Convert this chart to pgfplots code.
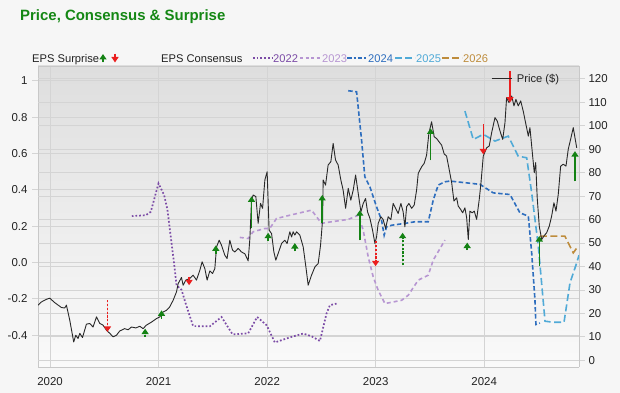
\documentclass[border=0pt]{standalone}
\usepackage{pgfplots}
\pgfplotsset{compat=1.18}
\usepackage{fontspec}
\setmainfont{Liberation Sans}
\usetikzlibrary{arrows.meta}
\definecolor{bgc}{RGB}{246,246,246}
\definecolor{gridc}{RGB}{212,212,212}
\definecolor{framec}{RGB}{200,200,200}
\definecolor{labc}{RGB}{34,34,34}
\definecolor{titlec}{RGB}{20,135,20}
\definecolor{c22}{RGB}{123,75,166}
\definecolor{c23}{RGB}{183,150,210}
\definecolor{c24}{RGB}{46,110,190}
\definecolor{c25}{RGB}{80,170,215}
\definecolor{c26}{RGB}{190,140,60}
\definecolor{upc}{RGB}{20,130,20}
\definecolor{dnc}{RGB}{235,30,30}
\definecolor{pricec}{RGB}{40,40,40}
\tikzset{
  s22/.style={c22, line width=1.7bp, dash pattern=on 1.7bp off 2bp},
  s23/.style={c23, line width=1.6bp, dash pattern=on 4bp off 3bp},
  s24/.style={c24, line width=1.6bp, dash pattern=on 4.5bp off 2.5bp},
  s25/.style={c25, line width=1.6bp, dash pattern=on 7bp off 3.5bp},
  s26/.style={c26, line width=1.6bp, dash pattern=on 7bp off 3.5bp},
  up/.style={draw=upc, fill=upc, line width=1.5bp, -{Triangle[width=7bp,length=5.5bp]}},
  dn/.style={draw=dnc, fill=dnc, line width=1.5bp, -{Triangle[width=7bp,length=5.5bp]}},
  dots/.style={line width=1.9bp, dash pattern=on 2.2bp off 1.6bp},
}
\pgfplotsset{base/.style={width=541bp, height=301bp, scale only axis,
  at={(38bp,26bp)}, anchor=south west, xmin=2019.889, xmax=2024.873,
  /pgf/number format/assume math mode=true,
  ticklabel style={font=\fontsize{11.5}{13}\selectfont, text=labc}}}
\begin{document}
\begin{tikzpicture}
\fill[bgc] (0bp,0bp) rectangle (620bp,393bp);
% left scale with grid and background
\begin{axis}[base, ymin=-0.575, ymax=1.081,
  axis background/.style={top color=white!87!black, bottom color=white!98!black},
  ytick={-0.4,-0.2,0,0.2,0.4,0.6,0.8,1},
  yticklabels={-0.4,-0.2,0.0,0.2,0.4,0.6,0.8,1},
  xtick={2020,2021,2022,2023,2024},
  xticklabels={2020,2021,2022,2023,2024},
  xmajorgrids, ymajorgrids,
  grid style={draw=gridc, line width=0.8bp},
  axis line style={draw=framec, line width=0.8bp},
  axis y line*=left, axis x line*=bottom,
  tick align=outside, major tick length=6bp,
  ytick style={draw=gridc, line width=0.8bp},
  xtick style={draw=none},
  xticklabel style={yshift=-1bp},
  yticklabel style={xshift=-1bp},
  ]
\end{axis}
% right scale with grid
\begin{axis}[base, ymin=-2.86, ymax=125.5,
  ytick={0,10,...,120},
  axis y line*=right, axis x line*=top,
  xtick=\empty,
  ymajorgrids,
  grid style={draw=gridc, line width=0.8bp},
  axis line style={draw=framec, line width=0.8bp},
  tick align=outside, major tick length=6bp,
  ytick style={draw=gridc, line width=0.8bp},
  ]
\end{axis}
% EPS consensus (left scale)
\begin{axis}[base, ymin=-0.575, ymax=1.081, hide axis]
\addplot[s22] coordinates {
(2020.753,0.255) (2020.882,0.260) (2020.928,0.279) (2020.999,0.435)
(2021.051,0.371) (2021.082,0.288) (2021.112,0.141) (2021.143,-0.006)
(2021.165,-0.125) (2021.211,-0.150) (2021.257,-0.240) (2021.318,-0.350)
(2021.472,-0.351) (2021.580,-0.300) (2021.681,-0.395) (2021.825,-0.390)
(2021.908,-0.300) (2021.995,-0.345) (2022.071,-0.440) (2022.209,-0.412)
(2022.332,-0.391) (2022.409,-0.406) (2022.486,-0.432) (2022.547,-0.281)
(2022.578,-0.235) (2022.640,-0.226)};
\addplot[s23] coordinates {
(2021.748,0.138) (2021.825,0.132) (2021.871,0.169) (2021.979,0.187)
(2022.024,0.187) (2022.086,0.242) (2022.209,0.260) (2022.409,0.288)
(2022.501,0.215) (2022.547,0.220) (2022.747,0.237) (2022.839,0.260)
(2022.885,0.178) (2022.931,0.031) (2022.977,-0.079) (2023.023,-0.153)
(2023.085,-0.226) (2023.239,-0.208) (2023.300,-0.180) (2023.392,-0.097)
(2023.484,-0.070) (2023.530,0.013) (2023.638,0.123)};
\addplot[s24] coordinates {
(2022.747,0.945) (2022.824,0.939) (2022.870,0.673) (2022.900,0.471)
(2022.947,0.416) (2023.008,0.306) (2023.054,0.233) (2023.078,0.150)
(2023.100,0.196) (2023.147,0.205) (2023.269,0.215) (2023.361,0.224)
(2023.484,0.224) (2023.530,0.343) (2023.576,0.426) (2023.638,0.444)
(2023.684,0.448) (2023.838,0.438) (2023.960,0.430) (2024.083,0.383)
(2024.237,0.374) (2024.329,0.273) (2024.406,0.255) (2024.437,0.053)
(2024.467,-0.204) (2024.476,-0.341) (2024.513,-0.333)};
\addplot[s25] coordinates {
(2023.822,0.833) (2023.899,0.677) (2023.991,0.705) (2024.099,0.668)
(2024.221,0.695) (2024.313,0.585) (2024.391,0.576) (2024.437,0.383)
(2024.498,0.090) (2024.560,-0.323) (2024.636,-0.329) (2024.735,-0.329)
(2024.790,-0.112) (2024.852,-0.002) (2024.873,0.040)};
\addplot[s26] coordinates {
(2024.513,0.145) (2024.743,0.145) (2024.820,0.053) (2024.866,0.090)};
\end{axis}
% Price and surprise arrows (right scale)
\begin{axis}[base, ymin=-2.86, ymax=125.5, hide axis]
\addplot[pricec, line width=0.9bp, line join=round] coordinates {
(2019.889,23.5) (2019.921,24.9) (2019.967,26.0) (2019.997,26.5) (2020.043,24.6)
(2020.105,22.5) (2020.135,22.3) (2020.151,23.5) (2020.182,17.0) (2020.218,7.8)
(2020.237,10.7) (2020.258,9.3) (2020.274,11.5) (2020.299,9.7) (2020.335,15.4)
(2020.366,15.7) (2020.396,14.2) (2020.428,18.5) (2020.458,15.7) (2020.488,15.0)
(2020.520,12.8) (2020.550,11.5) (2020.581,10.0) (2020.612,10.7) (2020.642,12.5)
(2020.688,13.5) (2020.719,13.0) (2020.750,14.2) (2020.790,13.8) (2020.827,14.5)
(2020.857,13.5) (2020.888,15.0) (2020.935,16.3) (2020.981,17.8) (2021.011,18.5)
(2021.041,20.6) (2021.073,21.3) (2021.103,22.8) (2021.134,25.6) (2021.165,29.2)
(2021.180,32.7) (2021.211,35.3) (2021.226,32.0) (2021.251,34.2) (2021.288,34.9)
(2021.318,36.3) (2021.349,34.2) (2021.380,38.4) (2021.401,42.0) (2021.426,39.1)
(2021.447,34.2) (2021.472,38.1) (2021.497,37.0) (2021.518,39.1) (2021.534,48.4)
(2021.558,51.2) (2021.580,49.0) (2021.610,44.8) (2021.631,43.4) (2021.656,51.2)
(2021.681,47.0) (2021.702,46.2) (2021.733,47.7) (2021.764,46.2) (2021.795,45.4)
(2021.825,42.4) (2021.841,51.9) (2021.856,68.3) (2021.871,70.5) (2021.896,69.8)
(2021.917,58.4) (2021.939,66.9) (2021.958,64.8) (2021.979,76.9) (2022.000,80.4)
(2022.018,55.5) (2022.041,54.0) (2022.062,46.2) (2022.080,42.7) (2022.101,45.5)
(2022.133,49.8) (2022.163,51.2) (2022.184,49.8) (2022.209,54.8) (2022.225,52.6)
(2022.240,54.8) (2022.255,53.4) (2022.271,54.8) (2022.301,53.4) (2022.332,48.4)
(2022.357,39.8) (2022.378,32.0) (2022.409,36.3) (2022.440,39.8) (2022.470,41.2)
(2022.492,49.1) (2022.511,60.0) (2022.516,76.9) (2022.538,74.7) (2022.562,83.3)
(2022.587,84.7) (2022.608,92.5) (2022.630,85.4) (2022.654,83.3) (2022.679,76.9)
(2022.700,72.6) (2022.723,64.8) (2022.747,73.3) (2022.771,68.3) (2022.793,72.6)
(2022.815,79.0) (2022.839,71.2) (2022.864,63.3) (2022.885,66.9) (2022.907,69.0)
(2022.925,63.3) (2022.947,60.5) (2022.971,55.5) (2022.993,49.8) (2023.008,52.6)
(2023.023,58.4) (2023.048,61.2) (2023.069,60.0) (2023.091,56.2) (2023.115,61.2)
(2023.140,60.0) (2023.161,66.9) (2023.183,64.8) (2023.207,62.6) (2023.232,66.9)
(2023.253,63.3) (2023.269,56.9) (2023.285,65.5) (2023.306,66.9) (2023.331,64.8)
(2023.355,66.2) (2023.377,72.6) (2023.392,79.7) (2023.423,82.5) (2023.447,84.0)
(2023.469,87.5) (2023.490,96.8) (2023.515,101.7) (2023.539,95.3) (2023.561,94.6)
(2023.583,93.2) (2023.607,91.8) (2023.631,88.0) (2023.653,87.1) (2023.677,81.4)
(2023.700,75.7) (2023.721,67.9) (2023.746,69.3) (2023.760,65.8) (2023.783,64.3)
(2023.801,62.9) (2023.822,65.0) (2023.838,60.8) (2023.853,51.5) (2023.868,63.6)
(2023.889,62.9) (2023.908,63.6) (2023.930,60.1) (2023.954,68.6) (2023.970,75.7)
(2023.991,87.1) (2024.022,90.6) (2024.046,91.4) (2024.068,97.0) (2024.099,103.5)
(2024.120,102.0) (2024.145,97.8) (2024.170,94.2) (2024.191,101.3) (2024.206,112.0)
(2024.228,109.9) (2024.253,112.7) (2024.274,108.5) (2024.292,111.3) (2024.313,108.5)
(2024.336,110.6) (2024.359,106.3) (2024.384,100.6) (2024.406,95.6) (2024.421,99.2)
(2024.446,87.1) (2024.461,80.0) (2024.474,84.3) (2024.488,69.3) (2024.507,57.2)
(2024.529,51.5) (2024.550,53.0) (2024.575,54.4) (2024.599,57.2) (2024.621,61.5)
(2024.642,67.2) (2024.661,63.6) (2024.682,70.8) (2024.704,82.8) (2024.728,83.6)
(2024.753,82.8) (2024.774,90.0) (2024.799,94.9) (2024.820,99.2) (2024.852,90.6)};
% surprise arrows
\addplot[dn, dots] coordinates {(2020.529,25.6) (2020.529,12.1)};
\addplot[up, dots] coordinates {(2020.876,10.0) (2020.876,13.5)};
\addplot[up] coordinates {(2021.027,17.8) (2021.027,21.3)};
\addplot[dn] coordinates {(2021.281,35.6) (2021.281,32.0)};
\addplot[up] coordinates {(2021.527,45.4) (2021.527,49.0)};
\addplot[up] coordinates {(2021.856,56.3) (2021.856,69.9)};
\addplot[up] coordinates {(2022.009,50.8) (2022.009,54.4)};
\addplot[up] coordinates {(2022.255,46.5) (2022.255,50.0)};
\addplot[up] coordinates {(2022.507,58.4) (2022.507,70.5)};
\addplot[up] coordinates {(2022.854,51.2) (2022.854,64.0)};
\addplot[dn, dots] coordinates {(2022.999,50.8) (2022.999,40.1)};
\addplot[up, dots] coordinates {(2023.248,40.6) (2023.248,54.4)};
\addplot[up] coordinates {(2023.506,85.4) (2023.506,98.9)};
\addplot[up, dots] coordinates {(2023.843,47.0) (2023.843,50.2)};
\addplot[dn] coordinates {(2023.991,100.6) (2023.991,87.8)};
\addplot[dn] coordinates {(2024.237,123.4) (2024.237,109.9)};
\addplot[up] coordinates {(2024.507,40.1) (2024.507,53.0)};
\addplot[up] coordinates {(2024.836,76.4) (2024.836,89.2)};
\end{axis}
% title
\node[anchor=base west, inner sep=0pt, font=\fontsize{15}{17}\selectfont\bfseries, text=titlec] at (20bp,372.5bp) {Price, Consensus \& Surprise};
% legend row
\begin{scope}[every node/.style={anchor=base west, inner sep=0pt, font=\fontsize{11.2}{13}\selectfont}]
\node[text=labc] at (32bp,330.5bp) {EPS Surprise};
\draw[up, line width=1.3bp] (103bp,330.5bp) -- (103bp,339bp);
\draw[dn, line width=1.3bp] (115bp,339bp) -- (115bp,330.5bp);
\node[text=labc] at (161bp,330.5bp) {EPS Consensus};
\draw[s22] (253bp,335bp) -- (272bp,335bp);
\node[text=c22] at (273bp,330.5bp) {2022};
\draw[s23, dash pattern=on 3bp off 2.5bp] (300bp,335bp) -- (320bp,335bp);
\node[text=c23] at (322bp,330.5bp) {2023};
\draw[s24, dash pattern=on 4.5bp off 2bp on 2bp off 2bp] (347bp,335bp) -- (367bp,335bp);
\node[text=c24] at (368bp,330.5bp) {2024};
\draw[s25, dash pattern=on 7bp off 3bp] (395bp,335bp) -- (415bp,335bp);
\node[text=c25] at (416bp,330.5bp) {2025};
\draw[s26, dash pattern=on 7bp off 3bp] (442bp,335bp) -- (462bp,335bp);
\node[text=c26] at (463bp,330.5bp) {2026};
\draw[pricec, line width=0.9bp] (491.7bp,314.3bp) -- (511.7bp,314.3bp);
\node[text=labc] at (516.7bp,310.5bp) {Price (\$)};
\end{scope}
\end{tikzpicture}
\end{document}
